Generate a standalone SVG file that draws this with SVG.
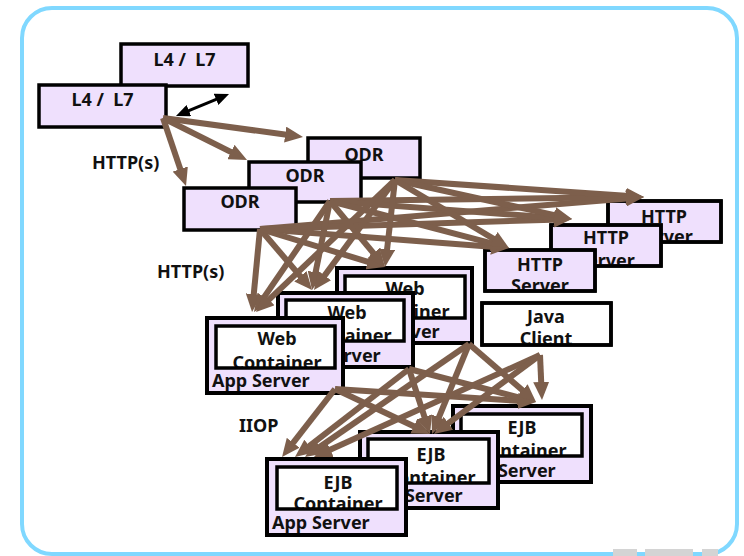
<svg xmlns="http://www.w3.org/2000/svg" width="744" height="556" viewBox="0 0 744 556">
<style>
text{font-family:"Noto Sans","Open Sans","Liberation Sans",sans-serif;font-weight:bold;font-size:18px;fill:#111;white-space:pre}
.c{text-anchor:middle}
.box{fill:#efe0fd;stroke:#000;stroke-width:3.5}
.app{fill:#efe0fd;stroke:#000;stroke-width:4}
.inw{fill:#fff;stroke:none}
.ins{fill:none;stroke:#000;stroke-width:3.5}
.wbox{fill:#fff;stroke:#000;stroke-width:3.5}
.ar{stroke:#7d5f4c;stroke-width:6;fill:none;marker-end:url(#bh)}
.logo{fill:#d4d4d4}
</style>
<defs>
<marker id="bh" markerUnits="userSpaceOnUse" markerWidth="18" markerHeight="16" viewBox="0 0 18 16" refX="7" refY="8" orient="auto"><path d="M0,0 L18,8 L0,16 z" fill="#7d5f4c"/></marker>
<marker id="kh" markerUnits="userSpaceOnUse" markerWidth="14" markerHeight="12" viewBox="0 0 14 12" refX="4" refY="6" orient="auto-start-reverse"><path d="M0,0 L14,6 L0,12 z" fill="#000"/></marker>
</defs>
<rect x="22" y="8" width="715" height="546" rx="30" fill="#fff" stroke="#80d8ff" stroke-width="4"/>
<g id="logo"><rect class="logo" x="613" y="549" width="24" height="7"/><rect class="logo" x="645" y="549" width="48" height="7"/><rect class="logo" x="702" y="549" width="16" height="7"/></g>

<g id="l4l7-back"><rect class="box" x="121" y="44" width="127" height="42"/><text class="c" x="184.5" y="66">L4 /  L7</text></g>
<g id="l4l7-front"><rect class="box" x="39" y="85" width="127" height="42"/><text class="c" x="102.5" y="106">L4 /  L7</text></g>

<g id="odr-back"><rect class="box" x="308" y="138" width="112" height="40"/><text class="c" x="364" y="161">ODR</text></g>
<g id="odr-mid"><rect class="box" x="249" y="162" width="112" height="40"/><text class="c" x="305" y="182">ODR</text></g>
<g id="odr-front"><rect class="box" x="184" y="188" width="112" height="42"/><text class="c" x="240" y="208">ODR</text></g>

<g id="http-back"><rect class="box" x="608" y="201" width="113" height="41"/><text class="c" x="664" y="223">HTTP</text><text class="c" x="664" y="243">Server</text><rect fill="none" stroke="#000" stroke-width="3.5" x="608" y="201" width="113" height="41"/></g>
<g id="http-mid"><rect class="box" x="551" y="225" width="110" height="41"/><text class="c" x="606" y="244">HTTP</text><text class="c" x="606" y="267">Server</text><rect fill="none" stroke="#000" stroke-width="3.5" x="551" y="225" width="110" height="41"/></g>
<g id="http-front"><rect class="box" x="485" y="250" width="110" height="41"/><text class="c" x="540" y="271">HTTP</text><text class="c" x="540" y="292">Server</text><rect fill="none" stroke="#000" stroke-width="3.5" x="485" y="250" width="110" height="41"/></g>

<g id="java-client"><rect class="wbox" x="482" y="303" width="129" height="42"/><text class="c" x="546" y="323">Java</text><text class="c" x="546" y="345">Client</text><rect fill="none" stroke="#000" stroke-width="3.5" x="482" y="303" width="129" height="42"/></g>

<g id="web-back"><rect class="app" x="337" y="268" width="135" height="75"/><rect class="inw" x="345" y="276" width="120" height="42"/><text class="c" x="405" y="295">Web</text><text class="c" x="405" y="318">Container</text><rect class="ins" x="345" y="276" width="120" height="42"/><text x="342" y="338">App Server</text></g>
<g id="web-mid"><rect class="app" x="278" y="293" width="135" height="74"/><rect class="inw" x="286" y="300" width="118" height="41"/><text class="c" x="347" y="319">Web</text><text class="c" x="347" y="342">Container</text><rect class="ins" x="286" y="300" width="118" height="41"/><text x="283" y="362">App Server</text></g>
<g id="web-front"><rect class="app" x="207" y="318" width="136" height="75"/><rect class="inw" x="216" y="326" width="119" height="42"/><text class="c" x="277" y="345">Web</text><text class="c" x="277" y="369">Container</text><rect class="ins" x="216" y="326" width="119" height="42"/><text x="212" y="387">App Server</text></g>

<g id="ejb-back"><rect class="app" x="453" y="406" width="138" height="76"/><rect class="inw" x="461" y="414" width="121" height="42"/><text class="c" x="522" y="434">EJB</text><text class="c" x="522" y="457">Container</text><rect class="ins" x="461" y="414" width="121" height="42"/><text x="458" y="477">App Server</text></g>
<g id="ejb-mid"><rect class="app" x="360" y="432" width="138" height="76"/><rect class="inw" x="368" y="439" width="121" height="44"/><text class="c" x="431" y="461">EJB</text><text class="c" x="431" y="484">Container</text><rect class="ins" x="368" y="439" width="121" height="44"/><text x="365" y="502">App Server</text></g>
<g id="ejb-front"><rect class="app" x="267" y="459" width="139" height="76"/><rect class="inw" x="277" y="467" width="120" height="42"/><text class="c" x="338" y="489">EJB</text><text class="c" x="338" y="510">Container</text><rect class="ins" x="277" y="467" width="120" height="42"/><text x="272" y="529">App Server</text></g>

<g id="labels"><text x="92" y="169">HTTP(s)</text><text x="157" y="278">HTTP(s)</text><text x="239" y="432">IIOP</text></g>

<g id="connectors">
<line x1="185.2" y1="112.2" x2="219.8" y2="97.8" stroke="#000" stroke-width="3" marker-start="url(#kh)" marker-end="url(#kh)"/>
<line class="ar" x1="163" y1="118" x2="292.1" y2="135.5"/>
<line class="ar" x1="163" y1="118" x2="237.2" y2="155.1"/>
<line class="ar" x1="163" y1="118" x2="182.5" y2="175.6"/>

<line class="ar" x1="260" y1="229" x2="633" y2="197.9"/>
<line class="ar" x1="260" y1="229" x2="561" y2="219.4"/>
<line class="ar" x1="260" y1="229" x2="498" y2="247.2"/>
<line class="ar" x1="260" y1="229" x2="253.1" y2="301.1"/>
<line class="ar" x1="260" y1="229" x2="304.9" y2="281.6"/>
<line class="ar" x1="260" y1="229" x2="374.5" y2="263.8"/>

<line class="ar" x1="330" y1="201" x2="633" y2="197.1"/>
<line class="ar" x1="330" y1="201" x2="561" y2="218.2"/>
<line class="ar" x1="330" y1="201" x2="498.4" y2="245.2"/>
<line class="ar" x1="330" y1="201" x2="260.2" y2="302.9"/>
<line class="ar" x1="330" y1="201" x2="314.2" y2="279.2"/>
<line class="ar" x1="330" y1="201" x2="378" y2="258.6"/>

<line class="ar" x1="395" y1="180" x2="633" y2="196.3"/>
<line class="ar" x1="395" y1="180" x2="561.3" y2="216.6"/>
<line class="ar" x1="395" y1="180" x2="499.5" y2="242.4"/>
<line class="ar" x1="395" y1="180" x2="264" y2="304.4"/>
<line class="ar" x1="395" y1="180" x2="320.5" y2="281.1"/>
<line class="ar" x1="395" y1="180" x2="386.3" y2="256.1"/>

<line class="ar" x1="335" y1="389" x2="288.8" y2="448.3"/>
<line class="ar" x1="335" y1="389" x2="420.1" y2="429.3"/>
<line class="ar" x1="335" y1="389" x2="525" y2="401.3"/>
<line class="ar" x1="409" y1="369" x2="303.7" y2="450.3"/>
<line class="ar" x1="409" y1="369" x2="426.6" y2="423.5"/>
<line class="ar" x1="409" y1="369" x2="525.4" y2="399.2"/>
<line class="ar" x1="469" y1="344" x2="314.1" y2="450.8"/>
<line class="ar" x1="469" y1="344" x2="436.2" y2="423.8"/>
<line class="ar" x1="469" y1="344" x2="527.7" y2="394.8"/>
<line class="ar" x1="540" y1="355" x2="324" y2="452.5"/>
<line class="ar" x1="540" y1="355" x2="442.8" y2="427.4"/>
<line class="ar" x1="540" y1="355" x2="541.5" y2="389"/>
</g>
</svg>
